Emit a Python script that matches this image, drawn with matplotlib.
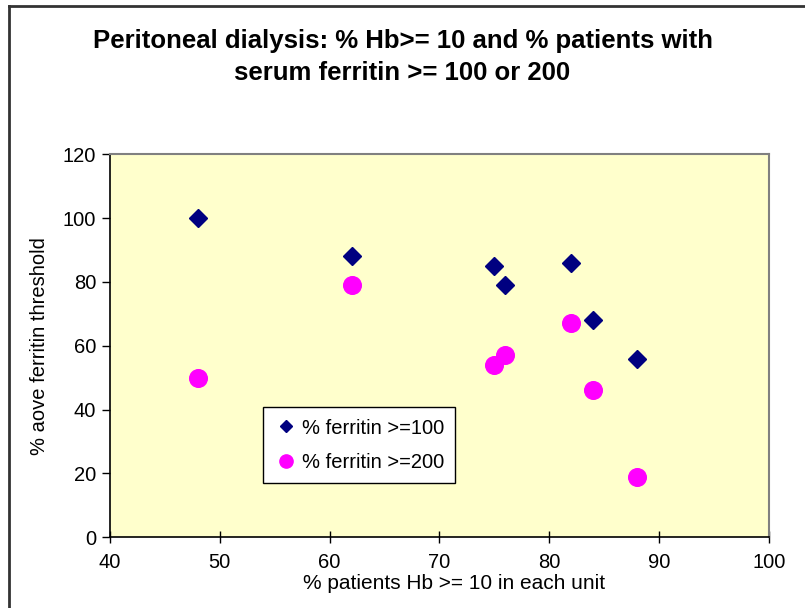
import matplotlib.pyplot as plt
from matplotlib.lines import Line2D

plt.rcParams['font.family'] = ['Liberation Sans', 'DejaVu Sans']

# % patients with Hb >= 10 in each unit
hb_pct = [48, 62, 75, 76, 82, 84, 88]
# % of patients above each ferritin threshold
ferritin_100 = [100, 88, 85, 79, 86, 68, 56]
ferritin_200 = [50, 79, 54, 57, 67, 46, 19]

x_ticks = [40, 50, 60, 70, 80, 90, 100]
y_ticks = [0, 20, 40, 60, 80, 100, 120]

fig = plt.figure(figsize=(8.05, 6.08), dpi=100)
ax = fig.add_axes([0.1366, 0.1163, 0.955 - 0.1366, 0.7462 - 0.1163])
ax.set_facecolor('#FFFFCC')

ax.plot(hb_pct, ferritin_100, linestyle='none', marker='D', markersize=8.7,
        color='#000080', label='% ferritin >=100')
ax.plot(hb_pct, ferritin_200, linestyle='none', marker='o', markersize=12.7,
        color='#FF00FF', label='% ferritin >=200')

ax.set_xlim(40, 100)
ax.set_ylim(0, 120)
ax.set_xticks(x_ticks)
ax.set_yticks(y_ticks)
ax.tick_params(axis='x', direction='inout', length=9, width=1, labelsize=14.5, pad=7)
ax.tick_params(axis='y', direction='out', length=6, width=1, labelsize=14.5, pad=4)

for side in ['left', 'bottom']:
    ax.spines[side].set_color('black')
    ax.spines[side].set_linewidth(1.2)
for side in ['top', 'right']:
    ax.spines[side].set_color('#808080')
    ax.spines[side].set_linewidth(1.5)

ax.set_xlabel('% patients Hb >= 10 in each unit', fontsize=15)
ax.xaxis.set_label_coords(0.523, -0.096)
ax.set_ylabel('% aove ferritin threshold', fontsize=14.5, labelpad=10)

fig.text(0.5, 0.952, 'Peritoneal dialysis: % Hb>= 10 and % patients with\nserum ferritin >= 100 or 200',
         ha='center', va='top', fontsize=18.5, fontweight='bold', linespacing=1.4)

leg = ax.legend(loc='upper left', bbox_to_anchor=(0.232, 0.339), fontsize=14.5,
                frameon=True, fancybox=False, handletextpad=0.2, handlelength=1.2,
                borderpad=0.55, labelspacing=0.75, borderaxespad=0)
leg.get_frame().set_edgecolor('black')
leg.get_frame().set_linewidth(1)
leg.get_frame().set_facecolor('white')
leg.get_frame().set_alpha(1)
for h in leg.legend_handles:
    h.set_markersize(h.get_markersize() * 0.75)

# outer chart border (left and top edges)
fig.add_artist(Line2D([8.5 / 805, 8.5 / 805], [0, 1 - 6 / 608],
                      transform=fig.transFigure, color='#333333', linewidth=2))
fig.add_artist(Line2D([8.5 / 805, 1], [1 - 6 / 608, 1 - 6 / 608],
                      transform=fig.transFigure, color='#333333', linewidth=2))

fig.savefig('out.png', dpi=100)
